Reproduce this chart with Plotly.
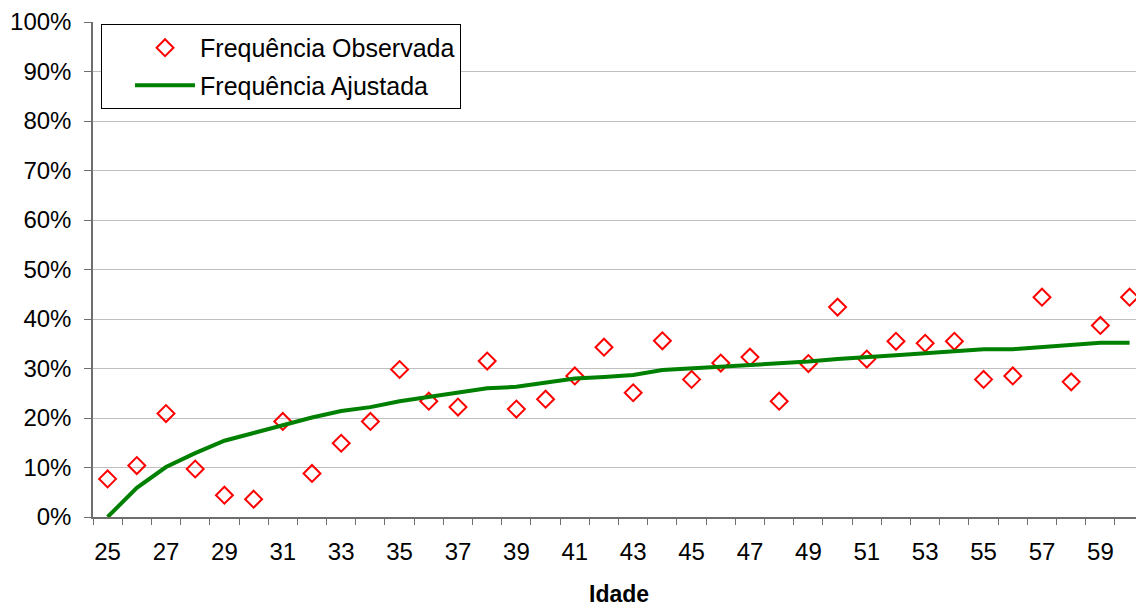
import plotly.graph_objects as go

idade = list(range(25, 61))
freq_observada = [7.7, 10.4, 20.9, 9.7, 4.4, 3.6, 19.3, 8.8, 14.9, 19.3, 29.8, 23.4,
                  22.2, 31.5, 21.8, 23.8, 28.5, 34.3, 25.1, 35.6, 27.8, 31.1, 32.3, 23.4,
                  31.0, 42.4, 31.9, 35.5, 35.1, 35.5, 27.8, 28.5, 44.4, 27.3, 38.7, 44.4]
freq_ajustada = [0.0, 5.9, 10.1, 12.9, 15.4, 17.0, 18.4, 20.1, 21.4, 22.2, 23.4, 24.2,
                 25.2, 26.0, 26.3, 27.1, 28.0, 28.3, 28.7, 29.7, 30.0, 30.4, 30.7, 31.1,
                 31.4, 31.9, 32.2, 32.7, 33.1, 33.5, 33.9, 33.9, 34.3, 34.7, 35.2, 35.2]
x_labels = [str(v) for v in range(25, 60, 2)]
y_ticks = [i / 10 for i in range(11)]

FONT = "Liberation Sans, Arial, sans-serif"

fig = go.Figure()
fig.add_trace(go.Scatter(
    x=idade, y=[v / 100 for v in freq_observada], mode="markers",
    name="Frequência Observada", legendgroup="a",
    marker=dict(symbol="diamond-open", color="#FF0000", size=13, line=dict(width=2, color="#FF0000")),
))
fig.add_trace(go.Scatter(
    x=idade, y=[v / 100 for v in freq_ajustada], mode="lines",
    name="Frequência Ajustada", legendgroup="b",
    line=dict(color="#008000", width=4),
))

fig.update_layout(
    width=1136, height=609,
    margin=dict(l=93, r=0, t=22, b=92),
    paper_bgcolor="white", plot_bgcolor="white",
    font=dict(family=FONT, size=24, color="black"),
    showlegend=True,
    legend=dict(
        x=0.0077, y=0.996, xanchor="left", yanchor="top",
        bgcolor="white", bordercolor="black", borderwidth=1,
        font=dict(family=FONT, size=25, color="black"),
        traceorder="grouped", tracegroupgap=2, itemwidth=60,
        indentation=28, entrywidth=290, entrywidthmode="pixels",
    ),
    xaxis=dict(
        range=[24.5, 60.22], tickmode="array",
        tickvals=list(range(25, 60, 2)), ticktext=x_labels,
        ticks="", showgrid=False, zeroline=False,
        showline=True, linecolor="#6E6E6E", linewidth=1.5,
        tickfont=dict(family=FONT, size=24, color="black"),
        ticklabelstandoff=12,
        minor=dict(tick0=24.5, dtick=1, ticks="outside", ticklen=6,
                   tickcolor="#6E6E6E", tickwidth=1, showgrid=False),
    ),
    yaxis=dict(
        range=[0, 1], tickmode="array", tickvals=y_ticks, tickformat=".0%",
        ticks="outside", ticklen=7, tickcolor="#6E6E6E", tickwidth=1,
        showgrid=True, gridcolor="#C0C0C0", gridwidth=1, zeroline=False,
        showline=True, linecolor="#6E6E6E", linewidth=1.5,
        tickfont=dict(family=FONT, size=24, color="black"),
        ticklabelstandoff=8,
    ),
    annotations=[dict(
        text="<b>Idade</b>", x=42.5, xref="x", y=-0.156, yref="paper",
        xanchor="center", yanchor="middle", showarrow=False,
        font=dict(family=FONT, size=23, color="black"),
    )],
)

fig.write_html("out.html")
